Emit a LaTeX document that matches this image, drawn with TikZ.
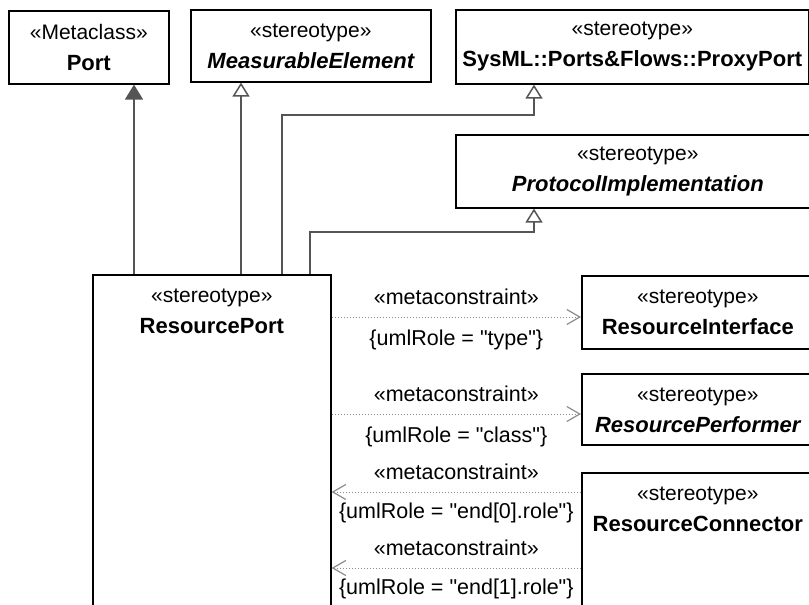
\documentclass[tikz,border=0pt]{standalone}
\usepackage{fontspec}
\setmainfont{Liberation Sans}[Ligatures=TeXOff]
\usetikzlibrary{arrows.meta,positioning}
\definecolor{linegray}{HTML}{555555}
\definecolor{dotgray}{HTML}{8C8C8C}
\newcommand{\elname}[1]{{\fontsize{22}{31}\selectfont\bfseries #1}}
\tikzset{
  stereobox/.style={draw=black, line width=1.6pt, fill=white, anchor=north west, inner sep=0pt},
  boxtitle/.style={align=center, inner sep=0pt, font=\fontsize{21}{31}\selectfont},
  genline/.style={draw=linegray, line width=1.5pt, -{Triangle[open, length=14pt, width=17pt, fill=white]}},
  extline/.style={draw=linegray, line width=1.5pt, -{Triangle[length=15pt, width=18pt, fill=linegray]}},
  metaline/.style={draw=dotgray, dotted, line width=1pt, -{Straight Barb[length=13pt, width=15pt, line width=1.2pt]}},
  metalbl/.style={inner sep=0pt, font=\fontsize{21.5}{24}\selectfont}
}
\begin{document}
\begin{tikzpicture}[x=1pt, y=-1pt]
  \useasboundingbox (0,0) rectangle (809,605);
  \clip (0,0) rectangle (809,605);

  % metaclass and stereotypes
  \node[stereobox, minimum width=160pt, minimum height=73pt] (port) at (8,10) {};
  \node[boxtitle] (portT) at ([yshift=-37pt]port.north) {«Metaclass»\\\elname{Port}};
  \node[stereobox, minimum width=240pt, minimum height=72pt] (meas) at (190,9) {};
  \node[boxtitle] (measT) at ([yshift=-37pt]meas.north) {«stereotype»\\\elname{\itshape MeasurableElement}};
  \node[stereobox, minimum width=353pt, minimum height=74pt] (proxy) at (455,9) {};
  \node[boxtitle] (proxyT) at ([yshift=-37pt]proxy.north) {«stereotype»\\\elname{SysML::Ports\&Flows::ProxyPort}};
  \node[stereobox, minimum width=364pt, minimum height=73pt] (proto) at (455,134) {};
  \node[boxtitle] (protoT) at ([yshift=-37pt]proto.north) {«stereotype»\\\elname{\itshape ProtocolImplementation}};

  \node[stereobox, minimum width=238pt, minimum height=360pt] (rport) at (92,274) {};
  \node[boxtitle] (rportT) at ([yshift=-37pt]rport.north) {«stereotype»\\\elname{ResourcePort}};

  \node[stereobox, minimum width=232pt, minimum height=73pt] (iface) at (581,275) {};
  \node[boxtitle] (ifaceT) at ([yshift=-37pt]iface.north) {«stereotype»\\\elname{ResourceInterface}};
  \node[stereobox, minimum width=232pt, minimum height=71pt] (perf) at (581,373) {};
  \node[boxtitle] (perfT) at ([yshift=-37pt]perf.north) {«stereotype»\\\elname{\itshape ResourcePerformer}};
  \node[stereobox, minimum width=232pt, minimum height=160pt] (conn) at (581,472) {};
  \node[boxtitle] (connT) at ([yshift=-37pt]conn.north) {«stereotype»\\\elname{ResourceConnector}};

  % generalizations and extension
  \coordinate (pA) at ([xshift=42pt]rport.north west);
  \coordinate (pB) at ([xshift=149pt]rport.north west);
  \coordinate (pC) at ([xshift=190pt]rport.north west);
  \coordinate (pD) at ([xshift=218pt]rport.north west);
  \draw[extline] (pA) -- (pA |- port.south);
  \draw[genline] (pB) -- (pB |- meas.south);
  \draw[genline] (pC) -- (pC |- 0,115) -| ([xshift=79pt]proxy.south west);
  \draw[genline] (pD) -- (pD |- 0,232) -| ([xshift=79pt]proto.south west);

  % metaconstraints
  \draw[metaline] (rport.east |- 0,317) -- (iface.west |- 0,317)
    node[metalbl, midway, yshift=20pt] (m1) {«metaconstraint»}
    node[metalbl, midway, yshift=-23pt] (r1) {\{umlRole = "type"\}};
  \draw[metaline] (rport.east |- 0,414) -- (perf.west |- 0,414)
    node[metalbl, midway, yshift=20pt] (m2) {«metaconstraint»}
    node[metalbl, midway, yshift=-23pt] (r2) {\{umlRole = "class"\}};
  \draw[metaline] (conn.west |- 0,492) -- (rport.east |- 0,492)
    node[metalbl, midway, yshift=20pt] (m3) {«metaconstraint»}
    node[metalbl, midway, yshift=-21pt] (r3) {\{umlRole = "end[0].role"\}};
  \draw[metaline] (conn.west |- 0,568) -- (rport.east |- 0,568)
    node[metalbl, midway, yshift=20pt] (m4) {«metaconstraint»}
    node[metalbl, midway, yshift=-21pt] (r4) {\{umlRole = "end[1].role"\}};
\end{tikzpicture}
\end{document}
